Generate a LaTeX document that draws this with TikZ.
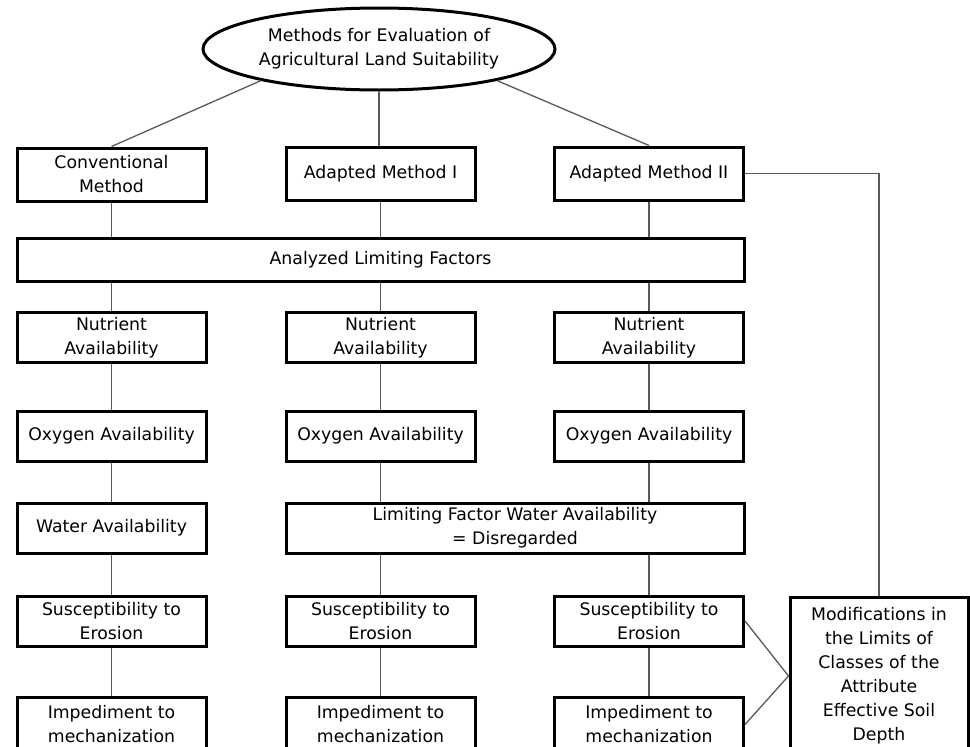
\documentclass[tikz,border=0pt]{standalone}
\usepackage{fontspec}
\setmainfont{DejaVu Sans}
\usepackage{tikz}
\usetikzlibrary{shapes.geometric}

\begin{document}
\begin{tikzpicture}[x=1pt, y=-1pt,
        font=\fontsize{17.3}{24}\selectfont,
        block/.style={draw, line width=3pt, align=center, inner sep=0pt,
            minimum width=189pt, minimum height=50pt},
        link/.style={draw=black!65, line width=1.3pt}]
            \useasboundingbox (0,0) rectangle (970,747);

            % top of the tree
            \node[draw, ellipse, line width=3pt, align=center, inner sep=0pt,
                minimum width=352pt, minimum height=82pt] (top) at (379,49)
                {Methods for Evaluation of\\Agricultural Land Suitability};

            % the three methods
            \node[block, minimum height=53pt] (conv) at (111.5,174.5) {Conventional\\Method};
            \node[block, minimum height=53pt] (am1) at (380.5,173.5) {Adapted Method I};
            \node[block, minimum height=53pt] (am2) at (649,173.5) {Adapted Method II};

            \node[block, minimum width=727pt, minimum height=43pt] (bar) at (380.5,259.5)
                {Analyzed Limiting Factors};

            % limiting factors, column by column
            \node[block] (nut1) at (111.5,337.5) {Nutrient\\Availability};
            \node[block] (nut2) at (380.5,337.5) {Nutrient\\Availability};
            \node[block] (nut3) at (649,337.5) {Nutrient\\Availability};

            \node[block] (oxy1) at (111.5,436) {Oxygen Availability};
            \node[block] (oxy2) at (380.5,436) {Oxygen Availability};
            \node[block] (oxy3) at (649,436) {Oxygen Availability};

            \node[block] (wat1) at (111.5,528) {Water Availability};
            \node[block, minimum width=458pt] (lim) at (515,528)
                {Limiting Factor Water Availability\\= Disregarded};

            \node[block] (sus1) at (111.5,621) {Susceptibility to\\Erosion};
            \node[block] (sus2) at (380.5,621) {Susceptibility to\\Erosion};
            \node[block] (sus3) at (649,621) {Susceptibility to\\Erosion};

            \node[block, minimum height=55pt] (imp1) at (111.5,724.5) {Impediment to\\mechanization};
            \node[block, minimum height=55pt] (imp2) at (380.5,724.5) {Impediment to\\mechanization};
            \node[block, minimum height=55pt] (imp3) at (649,724.5) {Impediment to\\mechanization};

            \node[block, minimum width=178pt, minimum height=158pt] (mod) at (879,676)
                {Modifications in\\the Limits of\\Classes of the\\Attribute\\Effective Soil\\Depth};

            % connectors
            \draw[link] (top.195) -- (conv.north);
            \draw[link] (top.south) -- (top.south |- am1.north);
            \draw[link] (top.345) -- (am2.north);

            \foreach \m/\n in {conv/nut1, am1/nut2, am2/nut3} {
                \draw[link] (\m.south) -- (\m.south |- bar.north);
                \draw[link] (bar.south -| \n.north) -- (\n.north);
            }

            \foreach \c in {1,2,3} {
                \draw[link] (nut\c) -- (oxy\c);
                \draw[link] (sus\c) -- (imp\c);
            }

            \draw[link] (oxy1) -- (wat1);
            \draw[link] (wat1) -- (sus1);
            \draw[link] (oxy2.south) -- (oxy2.south |- lim.north);
            \draw[link] (oxy3.south) -- (oxy3.south |- lim.north);
            \draw[link] (lim.south -| sus2.north) -- (sus2.north);
            \draw[link] (lim.south -| sus3.north) -- (sus3.north);

            \draw[link] (am2.east) -- (am2.east -| mod.north) -- (mod.north);
            \draw[link] (sus3.east) -- (mod.west);
            \draw[link] (imp3.east) -- (mod.west);
        \end{tikzpicture}
\end{document}
